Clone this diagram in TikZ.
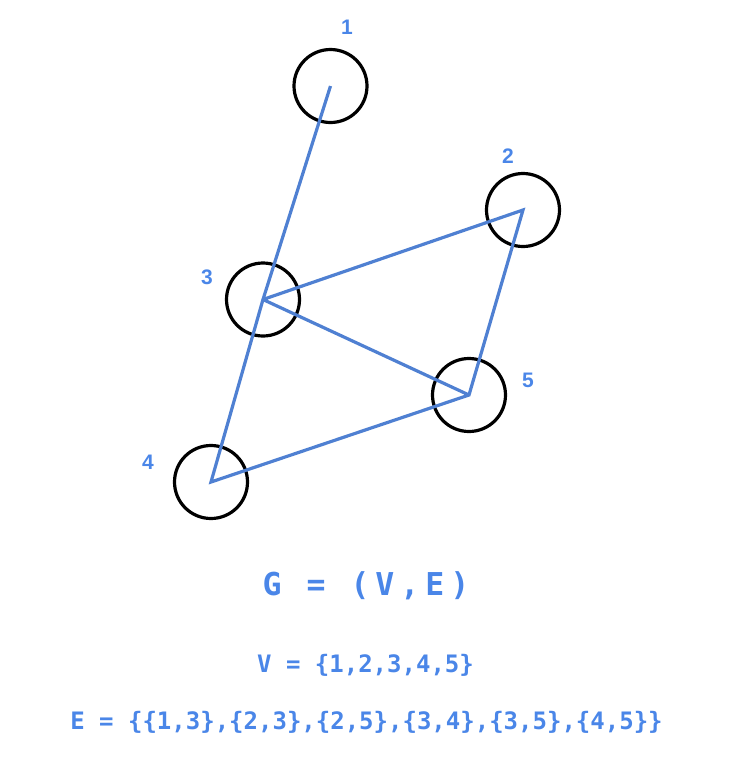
\documentclass[tikz,border=0pt]{standalone}
\usepackage{fontspec}
\setmainfont{Liberation Sans}
\newfontfamily\eqfont{DejaVu Sans Mono}
\newfontfamily\eqtitle[LetterSpace=19]{DejaVu Sans Mono}
\definecolor{gblue}{HTML}{4A86E8}
\definecolor{eblue}{HTML}{4F80D2}
\tikzset{
  vert/.style={circle, draw=black, line width=3.2pt, minimum size=73pt, inner sep=0pt},
  vlabel/.style={anchor=base, text=gblue, font=\fontsize{21}{21}\selectfont\bfseries, inner sep=0pt},
  edge/.style={draw=eblue, line width=3.2pt, line join=miter},
  eqtext/.style={anchor=base, text=gblue, inner sep=0pt}
}
\begin{document}
\begin{tikzpicture}[x=1pt,y=-1pt]
\useasboundingbox (0,0) rectangle (730,764);
\node[vert] (n1) at (330.5,86) {};
\node[vert] (n2) at (523,210) {};
\node[vert] (n3) at (263,299.5) {};
\node[vert] (n4) at (211,482) {};
\node[vert] (n5) at (469,395) {};
\path[edge] (n1.center) -- (n3.center) -- (n2.center) -- (n5.center) -- (n4.center) -- (n3.center) -- (n5.center);
\node[vlabel] (l1) at (347,34.5) {1};
\node[vlabel] (l2) at (508,163) {2};
\node[vlabel] (l3) at (207,284) {3};
\node[vlabel] (l4) at (148,469) {4};
\node[vlabel] (l5) at (528,387) {5};
\node[eqtext, font=\fontsize{31.5}{31.5}\selectfont\eqtitle\bfseries] (title) at (366,595) {G = (V,E)};
\node[eqtext, font=\fontsize{24}{24}\selectfont\eqfont\bfseries] (vset) at (365.5,672.7) {V = \{1,2,3,4,5\}};
\node[eqtext, font=\fontsize{24}{24}\selectfont\eqfont\bfseries] (eset) at (366.5,729) {E = \{\{1,3\},\{2,3\},\{2,5\},\{3,4\},\{3,5\},\{4,5\}\}};
\end{tikzpicture}
\end{document}
